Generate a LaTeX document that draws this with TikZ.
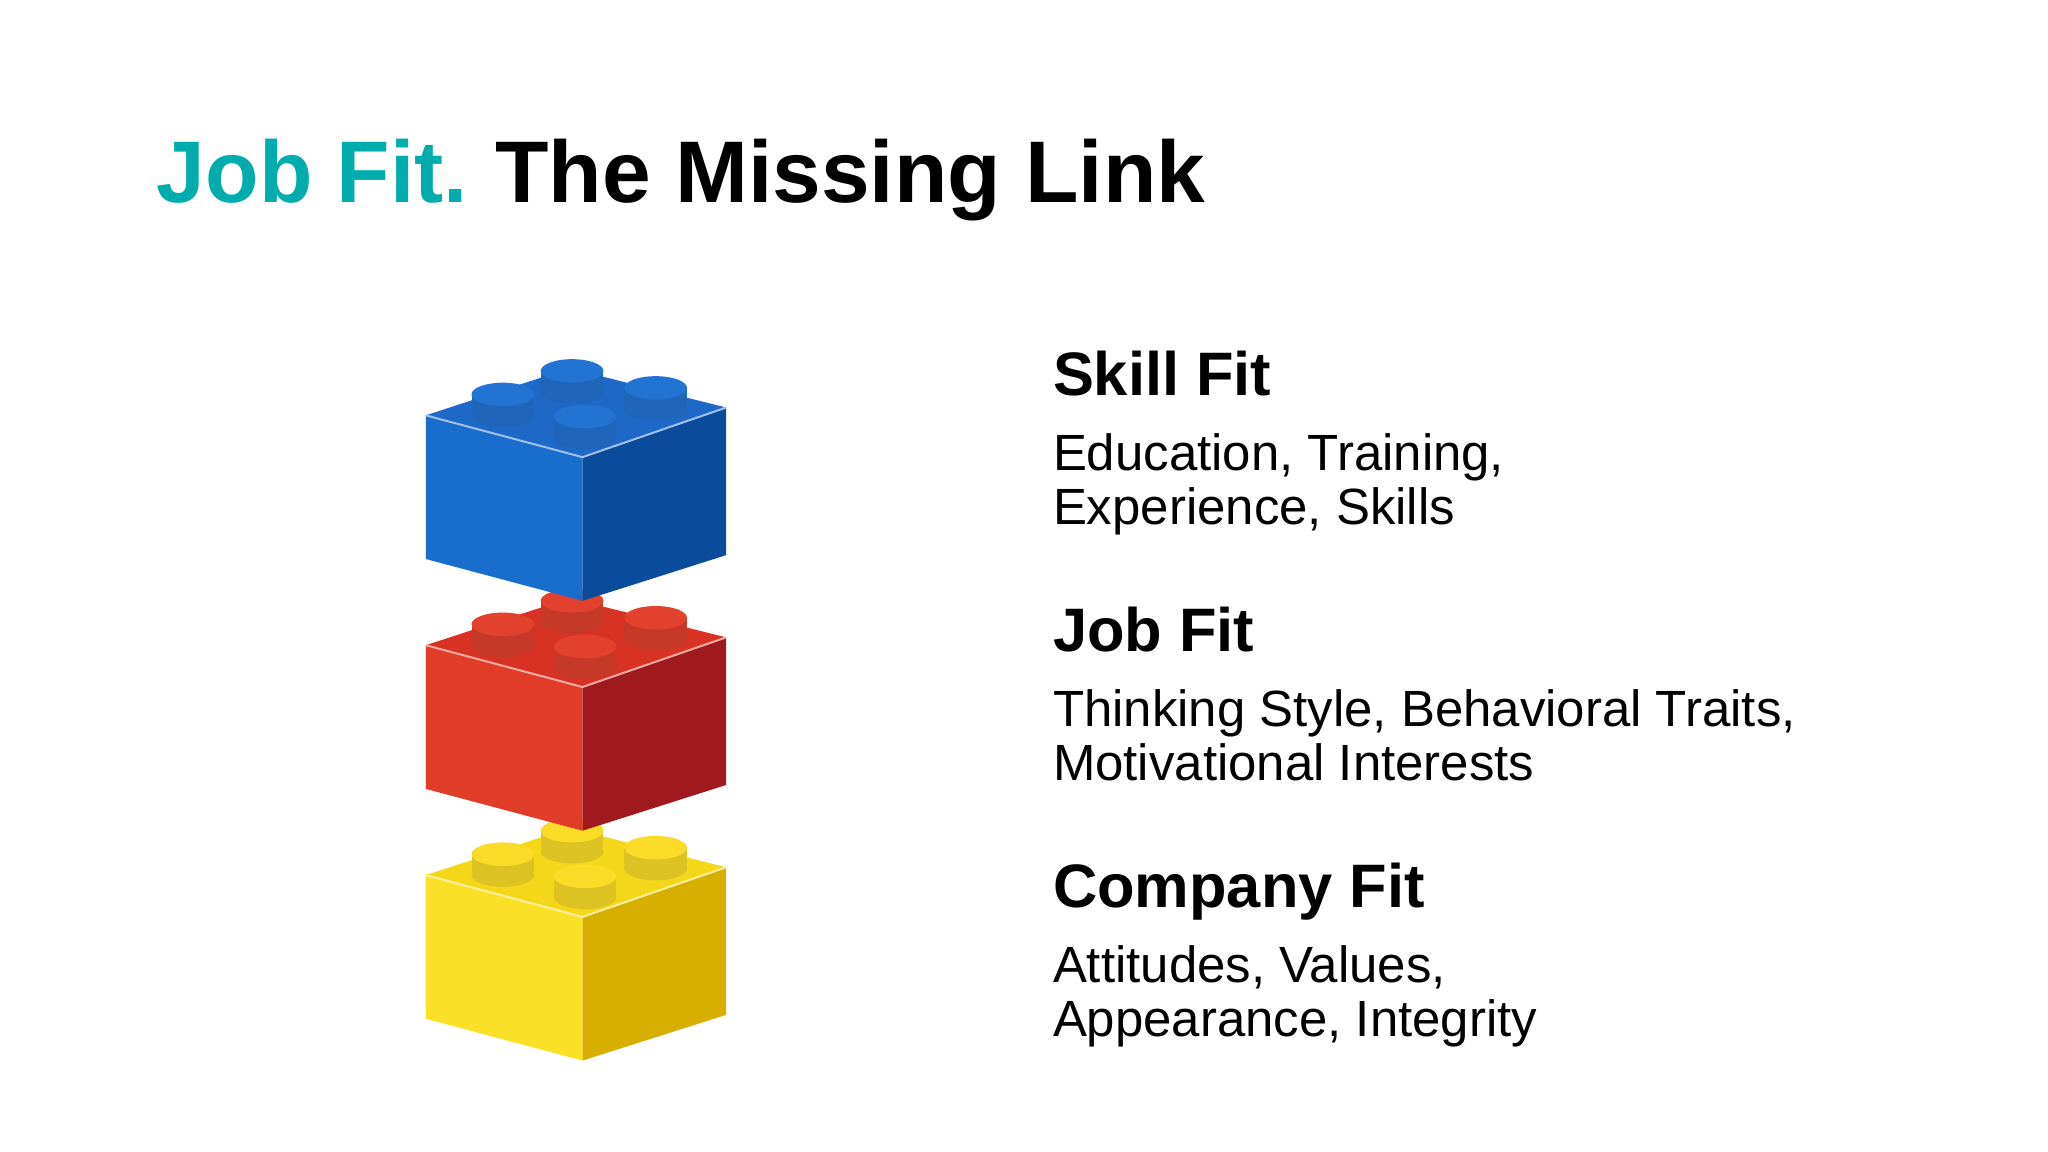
\documentclass[tikz,border=0pt]{standalone}
\usepackage{fontspec}
\setmainfont{Liberation Sans}
\definecolor{teal1}{RGB}{0,172,172}
\definecolor{bT}{RGB}{30,105,200}\definecolor{bL}{RGB}{25,110,205}\definecolor{bR}{RGB}{10,75,155}\definecolor{bS}{RGB}{35,115,210}
\definecolor{rT}{RGB}{215,50,35}\definecolor{rL}{RGB}{225,60,40}\definecolor{rR}{RGB}{160,25,30}\definecolor{rS}{RGB}{225,65,45}
\definecolor{yT}{RGB}{245,215,25}\definecolor{yL}{RGB}{250,225,40}\definecolor{yR}{RGB}{215,175,0}\definecolor{yS}{RGB}{250,220,40}
\tikzset{
 title/.style={anchor=base west,inner sep=0pt,font=\fontsize{67}{70}\selectfont\bfseries},
 head/.style={anchor=base west,inner sep=0pt,font=\fontsize{47}{50}\selectfont\bfseries},
 body/.style={anchor=north west,inner sep=0pt,align=left,font=\fontsize{39}{41}\selectfont},
}
\newcommand{\mybrick}[5]{% yshift, top, left, right, stud
 \begin{scope}[yshift=-#1pt]
  \fill[#3] (326,318) -- (446,350) -- (446,460) -- (326,428) -- cycle;
  \fill[#4] (446,350) -- (556,312) -- (556,425) -- (446,460) -- cycle;
  \fill[#2] (326,318) -- (436,282) -- (556,312) -- (446,350) -- cycle;
  \draw[white!60!#2,line width=1.5pt] (326,318) -- (446,350) -- (556,312);
  \foreach \sx/\sy in {438/300,385/318,502/313,448/335}{
   \fill[#5!88!black] (\sx,\sy) ellipse[x radius=24,y radius=9];
   \fill[#5!88!black] (\sx-24,\sy) rectangle (\sx+24,\sy-16);
   \fill[#5] (\sx,\sy-16) ellipse[x radius=24,y radius=9];
  }
 \end{scope}}
\begin{document}
\begin{tikzpicture}[x=1pt,y=-1pt]
\useasboundingbox[fill=white] (0,0) rectangle (1568,882);
\node[title] (t1) at (120,155) {\textcolor{teal1}{Job Fit.}\hspace{-4pt} The Missing Link};
\mybrick{352}{yT}{yL}{yR}{yS}
\mybrick{176}{rT}{rL}{rR}{rS}
\mybrick{0}{bT}{bL}{bR}{bS}
\node[head] (h1) at (806,303) {Skill Fit};
\node[body] (b1) at (806,332) {Education, Training,\\Experience, Skills};
\node[head] (h2) at (806,499) {Job Fit};
\node[body] (b2) at (806,528) {Thinking Style, Behavioral Traits,\\Motivational Interests};
\node[head] (h3) at (806,695) {Company Fit};
\node[body] (b3) at (806,724) {Attitudes, Values,\\Appearance, Integrity};
\end{tikzpicture}
\end{document}
